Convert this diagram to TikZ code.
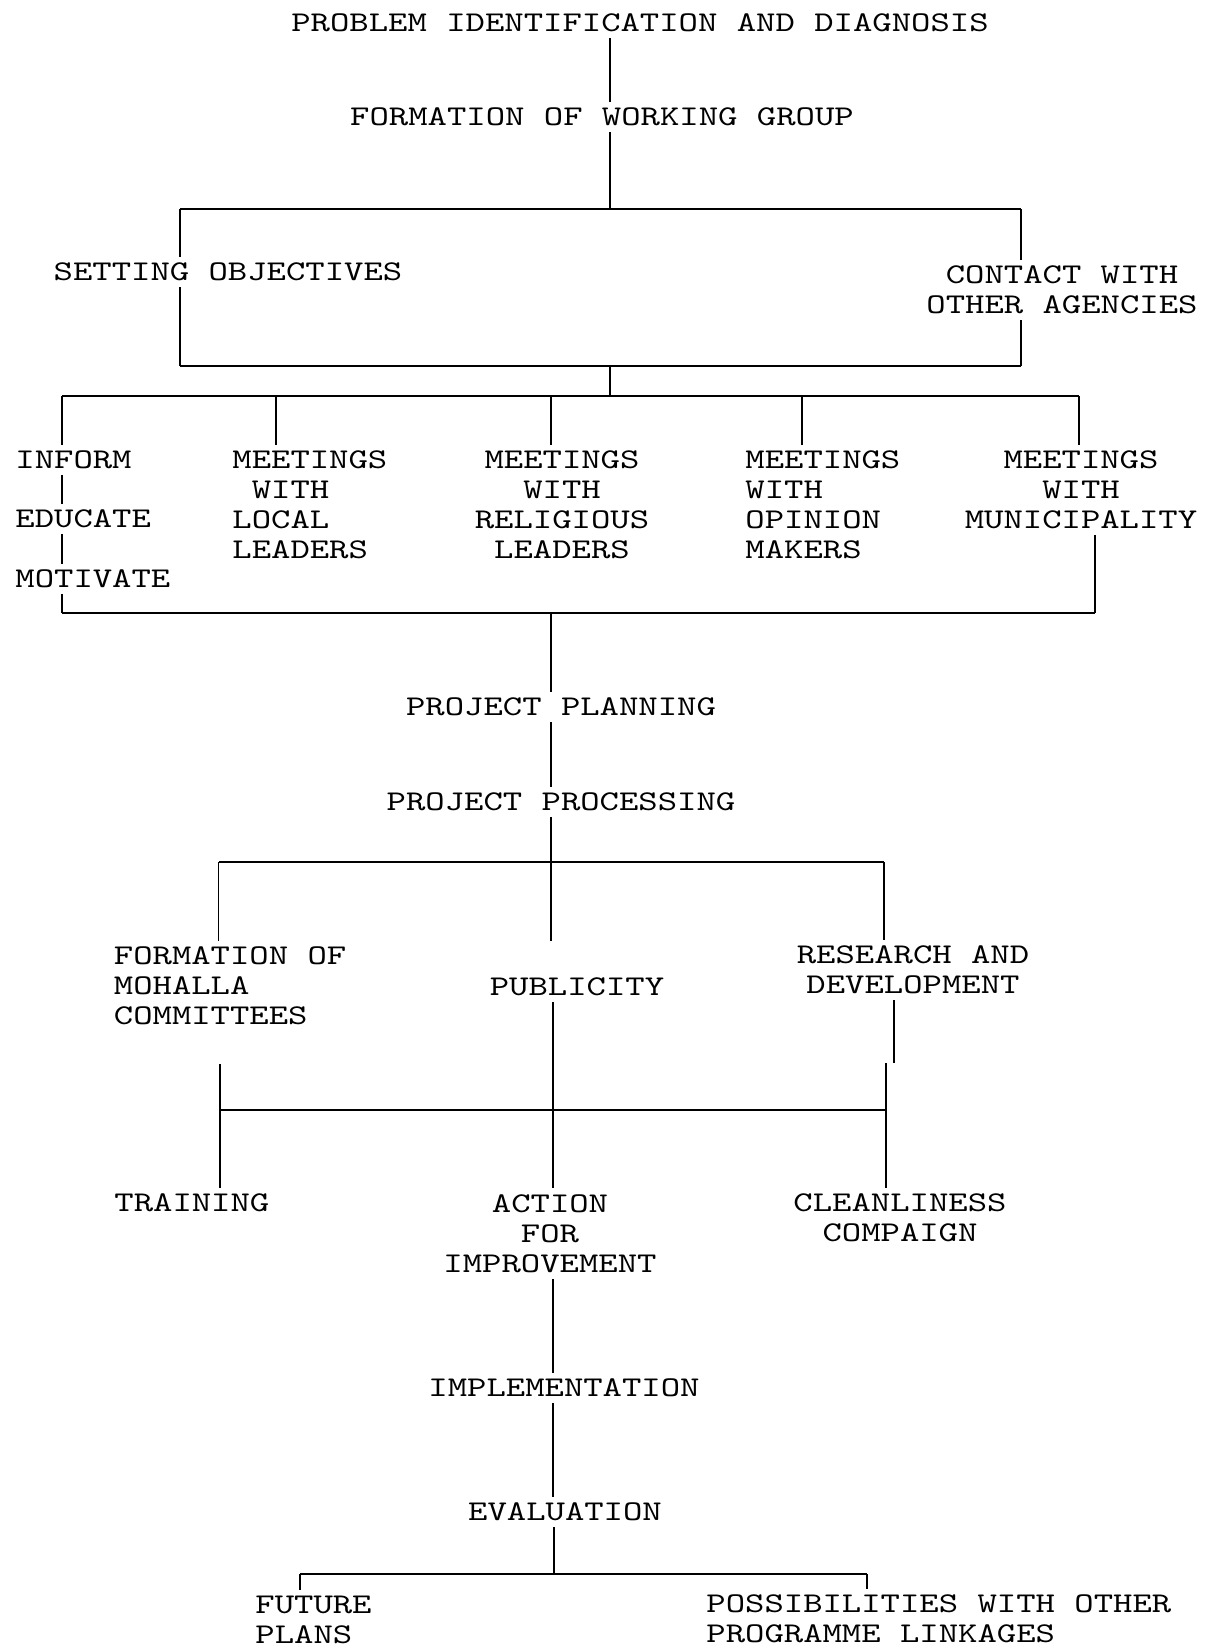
\documentclass[tikz,border=0pt]{standalone}
\usepackage{fontspec}
\setmainfont{lmmono10-regular.otf}[FakeStretch=1.29]
\begin{document}
\begin{tikzpicture}[x=0.5pt,y=-0.5pt,
  txt/.style={inner sep=3pt, font=\fontsize{14.3}{15}\selectfont},
  lefttxt/.style={txt, anchor=west, align=left},
  midtxt/.style={txt, align=center},
  conn/.style={line width=0.7pt},
  hbar/.style={line width=1.4pt}]
\useasboundingbox (0,0) rectangle (1208,1651);
\node[txt] (problem) at (640,23) {PROBLEM IDENTIFICATION AND DIAGNOSIS};
\node[txt] (group) at (602,117) {FORMATION OF WORKING GROUP};
\node[txt] (objectives) at (228,272) {SETTING OBJECTIVES};
\node[midtxt] (agencies) at (1062,290) {CONTACT WITH\\OTHER AGENCIES};
\node[lefttxt] (inform) at (9,460) {INFORM};
\node[lefttxt] (educate) at (9,519) {EDUCATE};
\node[lefttxt] (motivate) at (9,579) {MOTIVATE};
\node[lefttxt] (local) at (226,505) {MEETINGS\\\phantom{M}WITH\\LOCAL\\LEADERS};
\node[midtxt] (religious) at (562,505) {MEETINGS\\WITH\\RELIGIOUS\\LEADERS};
\node[lefttxt] (opinion) at (739,505) {MEETINGS\\WITH\\OPINION\\MAKERS};
\node[midtxt] (municipality) at (1081,490) {MEETINGS\\WITH\\MUNICIPALITY};
\node[txt] (planning) at (561,707) {PROJECT PLANNING};
\node[txt] (processing) at (561,802) {PROJECT PROCESSING};
\node[lefttxt] (mohalla) at (107.5,986) {FORMATION OF\\MOHALLA\\COMMITTEES};
\node[txt] (publicity) at (577,987) {PUBLICITY};
\node[midtxt] (research) at (913,970) {RESEARCH AND\\DEVELOPMENT};
\node[lefttxt] (training) at (108,1203) {TRAINING};
\node[midtxt] (action) at (550,1233.5) {ACTION\\FOR\\IMPROVEMENT};
\node[midtxt] (campaign) at (900,1218) {CLEANLINESS\\COMPAIGN};
\node[txt] (implementation) at (564,1388) {IMPLEMENTATION};
\node[txt] (evaluation) at (565,1512) {EVALUATION};
\node[lefttxt] (future) at (249,1620) {FUTURE\\PLANS};
\node[lefttxt] (linkages) at (700,1619) {POSSIBILITIES WITH OTHER\\PROGRAMME LINKAGES};
\coordinate (split) at (610,209);
\coordinate (boxnw) at (180,209);
\coordinate (boxne) at (1021,209);
\coordinate (boxsw) at (180,366);
\coordinate (boxse) at (1021,366);
\coordinate (merge) at (610,366);
\coordinate (fan) at (610,396);
\coordinate (fana) at (62,396);
\coordinate (fanb) at (276,396);
\coordinate (fanc) at (551,396);
\coordinate (fand) at (802,396);
\coordinate (fane) at (1079,396);
\coordinate (joinw) at (62,613);
\coordinate (join) at (551,613);
\coordinate (joine) at (1095,613);
\coordinate (branchw) at (218.5,862);
\coordinate (branche) at (884,862);
\coordinate (gather) at (553,1110);
\coordinate (gatherw) at (220,1110);
\coordinate (gathere) at (886,1110);
\coordinate (jogw) at (220,1064);
\coordinate (jogr) at (894,1063);
\coordinate (joge) at (886,1063);
\coordinate (split2) at (554,1574);
\coordinate (splitw) at (300,1574);
\coordinate (splite) at (867,1574);
\draw[conn] (problem.south -| split) -- (group.north -| split);
\draw[conn] (group.south -| split) -- (split);
\draw[hbar] (boxnw) -- (boxne);
\draw[conn] (boxnw) -- (objectives.north -| boxnw);
\draw[conn] (objectives.south -| boxnw) -- (boxsw);
\draw[conn] (boxne) -- (agencies.north -| boxne);
\draw[conn] (agencies.south -| boxne) -- (boxse);
\draw[hbar] (boxsw) -- (boxse);
\draw[conn] (merge) -- (fan);
\draw[hbar] (fana) -- (fane);
\draw[conn] (fana) -- (inform.north -| fana);
\draw[conn] (fanb) -- (local.north -| fanb);
\draw[conn] (fanc) -- (religious.north -| fanc);
\draw[conn] (fand) -- (opinion.north -| fand);
\draw[conn] (fane) -- (municipality.north -| fane);
\draw[conn] (inform.south -| fana) -- (educate.north -| fana);
\draw[conn] (educate.south -| fana) -- (motivate.north -| fana);
\draw[conn] (motivate.south -| fana) -- (joinw);
\draw[conn] (municipality.south -| joine) -- (joine);
\draw[hbar] (joinw) -- (joine);
\draw[conn] (join) -- (planning.north -| join);
\draw[conn] (planning.south -| join) -- (processing.north -| join);
\draw[conn] (processing.south -| join) -- (mohalla.north -| join);
\draw[hbar] (branchw) -- (branche);
\draw[conn] (branchw) -- (mohalla.north -| branchw);
\draw[conn] (branche) -- (research.north -| branche);
\draw[conn] (publicity.south -| gather) -- (gather);
\draw[conn] (research.south -| jogr) -- (jogr);
\draw[conn] (joge) -- (gathere);
\draw[conn] (jogw) -- (gatherw);
\draw[hbar] (gatherw) -- (gathere);
\draw[conn] (gatherw) -- (training.north -| gatherw);
\draw[conn] (gather) -- (action.north -| gather);
\draw[conn] (gathere) -- (campaign.north -| gathere);
\draw[conn] (action.south -| gather) -- (implementation.north -| gather);
\draw[conn] (implementation.south -| gather) -- (evaluation.north -| gather);
\draw[conn] (evaluation.south -| split2) -- (split2);
\draw[hbar] (splitw) -- (splite);
\draw[conn] (splitw) -- (future.north -| splitw);
\draw[conn] (splite) -- (linkages.north -| splite);
\end{tikzpicture}
\end{document}
